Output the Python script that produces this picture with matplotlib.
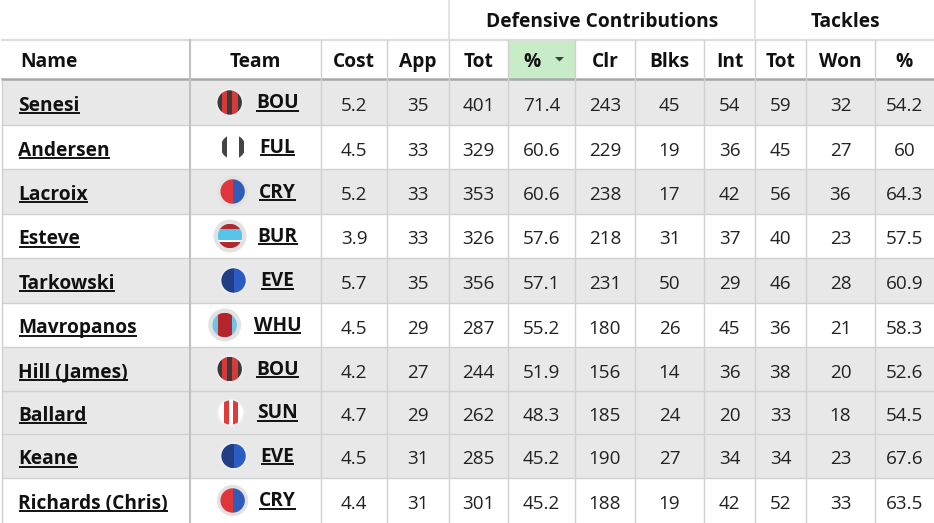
import matplotlib.pyplot as plt
from matplotlib.patches import Circle, Rectangle, Polygon

plt.rcParams['font.family'] = ['Open Sans', 'DejaVu Sans']

names = ["Senesi", "Andersen", "Lacroix", "Esteve", "Tarkowski", "Mavropanos",
         "Hill (James)", "Ballard", "Keane", "Richards (Chris)"]
teams = ["BOU", "FUL", "CRY", "BUR", "EVE", "WHU", "BOU", "SUN", "EVE", "CRY"]
cost = ["5.2", "4.5", "5.2", "3.9", "5.7", "4.5", "4.2", "4.7", "4.5", "4.4"]
apps = ["35", "33", "33", "33", "35", "29", "27", "29", "31", "31"]
dc_tot = ["401", "329", "353", "326", "356", "287", "244", "262", "285", "301"]
dc_pct = ["71.4", "60.6", "60.6", "57.6", "57.1", "55.2", "51.9", "48.3", "45.2", "45.2"]
clr = ["243", "229", "238", "218", "231", "180", "156", "185", "190", "188"]
blks = ["45", "19", "17", "31", "50", "26", "14", "24", "27", "19"]
ints = ["54", "36", "42", "37", "29", "45", "36", "20", "34", "42"]
tk_tot = ["59", "45", "56", "40", "46", "36", "38", "33", "34", "52"]
tk_won = ["32", "27", "36", "23", "28", "21", "20", "18", "23", "33"]
tk_pct = ["54.2", "60", "64.3", "57.5", "60.9", "58.3", "52.6", "54.5", "67.6", "63.5"]

headers = ["Name", "Team", "Cost", "App", "Tot", "%", "Clr", "Blks", "Int", "Tot", "Won", "%"]
shaded = [True, False, True, False, True, False, True, True, True, False]

# layout, in pixels of the figure
col_edges = [2, 190, 321, 387, 449, 508, 575, 635, 704, 755, 806, 875, 934]
row_edges = [80, 125, 169, 214, 258, 303, 347, 391, 434, 478, 523]

GREY = "#e8e8e8"
LINE = "#d0d0d0"
TXT = "#111111"

# crest sizes: (halo radius, halo colour, gap to the team code)
crest_style = {
    "BOU": (14, "#eeeeee", 26.5),
    "FUL": (14, "#ffffff", 26.5),
    "CRY": (15.7, "#e2e2e2", 26.5),
    "BUR": (16.5, "#e2e2e2", 27.5),
    "EVE": (14, "#eeeeee", 27),
    "WHU": (16.5, "#e2e2e2", 29),
    "SUN": (14, "#efefef", 26.5),
}
crest_bands = {
    "BOU": [(-1, 0.33, "#3a3a3a"), (-0.67, 0.47, "#d63a3a"), (-0.2, 0.4, "#3a3a3a"), (0.2, 0.47, "#d63a3a"), (0.67, 0.33, "#3a3a3a")],
    "FUL": [(-1, 0.42, "#ffffff"), (-0.92, 0.42, "#444444"), (-0.5, 1.0, "#ffffff"), (0.5, 0.42, "#444444"), (0.92, 0.1, "#ffffff")],
    "CRY": [(-1, 1.0, "#e0353b"), (0, 1.0, "#2f5cb8")],
    "EVE": [(-1, 1.0, "#223f86"), (0, 1.0, "#2b5cc4")],
    "SUN": [(-1, 0.45, "#ffffff"), (-0.55, 0.38, "#dc3c3c"), (-0.17, 0.34, "#ffffff"), (0.17, 0.41, "#dc3c3c"), (0.58, 0.42, "#ffffff")],
    "WHU": [(-1, 0.42, "#6cc6e6"), (-0.58, 1.16, "#b3242c"), (0.58, 0.42, "#6cc6e6")],
}
bur_bands = [(-1, 0.42, "#ad2a33"), (-0.58, 0.92, "#55c6e8"), (0.34, 0.2, "#ffffff"), (0.5, 0.5, "#ad2a33")]

fig = plt.figure(figsize=(9.34, 5.23), dpi=100)
ax = fig.add_axes([0, 0, 1, 1])
ax.set_xlim(0, 934)
ax.set_ylim(523, 0)
ax.axis("off")


def crest(cx, cy, team):
    r = 12.2
    halo, halo_color, _ = crest_style[team]
    ax.add_patch(Circle((cx, cy), halo, fc=halo_color, ec="none", zorder=3))
    clip = Circle((cx, cy), r, transform=ax.transData)
    if team == "BUR":
        for y0, h, c in bur_bands:
            p = Rectangle((cx - r, cy + y0 * r), 2 * r, h * r, fc=c, ec="none", zorder=4)
            ax.add_patch(p)
            p.set_clip_path(clip)
        return
    for x0, w, c in crest_bands[team]:
        p = Rectangle((cx + x0 * r, cy - r), w * r, 2 * r, fc=c, ec="none", zorder=4)
        ax.add_patch(p)
        p.set_clip_path(clip)


columns = [cost, apps, dc_tot, dc_pct, clr, blks, ints, tk_tot, tk_won, tk_pct]

# row backgrounds
for i, s in enumerate(shaded):
    if s:
        ax.add_patch(Rectangle((2, row_edges[i]), 932, row_edges[i + 1] - row_edges[i], fc=GREY, ec="none", zorder=0))

# highlighted sort column
ax.add_patch(Rectangle((col_edges[5], 40), col_edges[6] - col_edges[5], 39, fc="#c8ecc8", ec="none", zorder=0))
ax.add_patch(Polygon([(555, 57), (564, 57), (559.5, 61.5)], fc="#33443a", ec="none", zorder=2))

# grid lines
for y in row_edges[1:-1]:
    ax.plot([2, 934], [y - 0.5, y - 0.5], color=LINE, lw=1, zorder=1)
ax.plot([2, 934], [39.5, 39.5], color="#dddddd", lw=1.6, zorder=1)
ax.plot([2, 934], [79, 79], color="#a8a8a8", lw=1.8, zorder=1)
for k, x in enumerate(col_edges[:-1]):
    if k == 0:
        ax.plot([x, x], [80, 523], color=LINE, lw=1, zorder=1)
    elif k == 1:
        ax.plot([x, x], [40, 523], color="#c0c0c0", lw=1.5, zorder=1)
    else:
        ax.plot([x, x], [40, 523], color=LINE, lw=1, zorder=1)
for x in (449, 755):
    ax.plot([x, x], [0, 40], color="#dddddd", lw=1.2, zorder=1)

# headers
HEAD_SIZE = 13.8
BODY_SIZE = 13.6
ax.text(602, 27, "Defensive Contributions", ha="center", va="baseline", fontsize=HEAD_SIZE, fontweight="bold", color=TXT)
ax.text(845, 27, "Tackles", ha="center", va="baseline", fontsize=HEAD_SIZE, fontweight="bold", color=TXT)
for k, h in enumerate(headers):
    if k == 0:
        ax.text(20, 67, h, ha="left", va="baseline", fontsize=HEAD_SIZE, fontweight="bold", color=TXT)
    elif k == 5:
        ax.text(532, 67, h, ha="center", va="baseline", fontsize=HEAD_SIZE, fontweight="bold", color=TXT)
    else:
        ax.text((col_edges[k] + col_edges[k + 1]) / 2, 67, h, ha="center", va="baseline", fontsize=HEAD_SIZE, fontweight="bold", color=TXT)

fig.canvas.draw()
rend = fig.canvas.get_renderer()


def underlined(x, baseline, s, ha):
    t = ax.text(x, baseline, s, ha=ha, va="baseline", fontsize=HEAD_SIZE, fontweight="bold", color=TXT, zorder=5)
    bb = t.get_window_extent(rend)
    ax.plot([bb.x0, bb.x1], [baseline + 2, baseline + 2], color=TXT, lw=1.4, zorder=5, solid_capstyle="butt")
    return bb


# body
for i in range(len(names)):
    cy = (row_edges[i] + row_edges[i + 1]) / 2
    underlined(18.5, cy + 8.5, names[i], "left")
    bb = underlined(277.5, cy + 6, teams[i], "center")
    crest(bb.x0 - crest_style[teams[i]][2], cy, teams[i])
    for j, col in enumerate(columns):
        x = (col_edges[j + 2] + col_edges[j + 3]) / 2
        ax.text(x, cy + 8.5, col[i], ha="center", va="baseline", fontsize=BODY_SIZE, color="#222222")

fig.savefig("out.png", dpi=100)
